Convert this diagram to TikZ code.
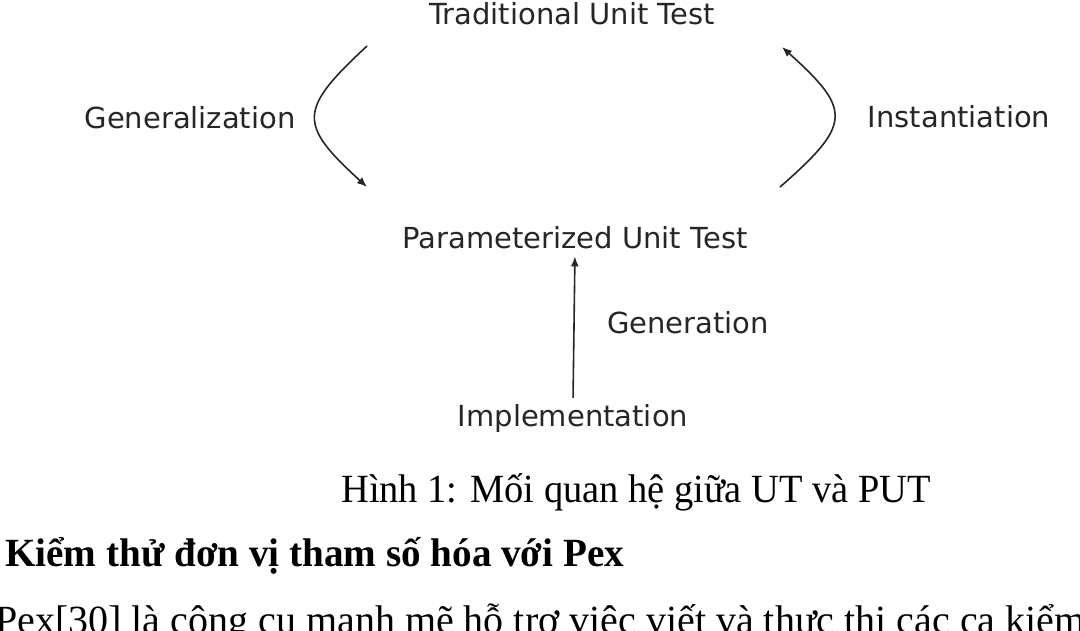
\documentclass[tikz,border=0pt]{standalone}
\usepackage{fontspec}
\usetikzlibrary{arrows.meta}
\newfontfamily\diagfont{DejaVu Sans}
\setmainfont{Liberation Serif}
\newfontfamily\capfont[FakeStretch=0.96]{Liberation Serif}
\newfontfamily\headfont[FakeStretch=0.978]{Liberation Serif}
\definecolor{inkgray}{HTML}{262626}
\tikzset{
  lbl/.style={inner sep=2pt, text=inkgray, font=\diagfont\fontsize{29}{34}\selectfont},
  flow/.style={draw=inkgray, line width=1.6pt, -{Latex[length=10pt,width=8pt]}},
  bodytext/.style={inner sep=0pt, text=black, font=\fontsize{40}{48}\selectfont}
}
\begin{document}
\begin{tikzpicture}[x=1pt, y=-1pt]
        \useasboundingbox (0, 0) rectangle (1080, 630);
        \clip (0, 0) rectangle (1080, 630);
        \node[lbl] (tut) at (572, 14) {Traditional Unit Test};
        \node[lbl] (put) at (575, 238) {Parameterized Unit Test};
        \node[lbl] (impl) at (573, 418) {Implementation};
        \node[lbl] (gen) at (190, 118) {Generalization};
        \node[lbl] (inst) at (959, 117) {Instantiation};
        \node[lbl] (gnr) at (688, 323) {Generation};
        \coordinate (genS) at (367, 46);
        \coordinate (genE) at (367, 187);
        \coordinate (instS) at (780, 187);
        \coordinate (instE) at (782, 47);
        \draw[flow] (genS) .. controls (298, 110) and (298, 124) .. (genE);
        \draw[flow] (instS) .. controls (852, 124) and (852, 110) .. (instE);
        \draw[flow, shorten >=5pt, shorten <=4pt] (impl.north) -- (put.south);
        % caption and the text below the figure
        \node[bodytext, font=\capfont\fontsize{40}{48}\selectfont] (cap) at (636, 492) {Hình 1: Mối quan hệ giữa UT và PUT};
        \node[bodytext, anchor=west, font=\headfont\bfseries\fontsize{40}{48}\selectfont] (head) at (5, 556) {Kiểm thử đơn vị tham số hóa với Pex};
        \node[bodytext, anchor=north west] (para) at (-5, 604) {Pex[30] là công cụ mạnh mẽ hỗ trợ việc viết và thực thi các ca kiểm};
\end{tikzpicture}
\end{document}
